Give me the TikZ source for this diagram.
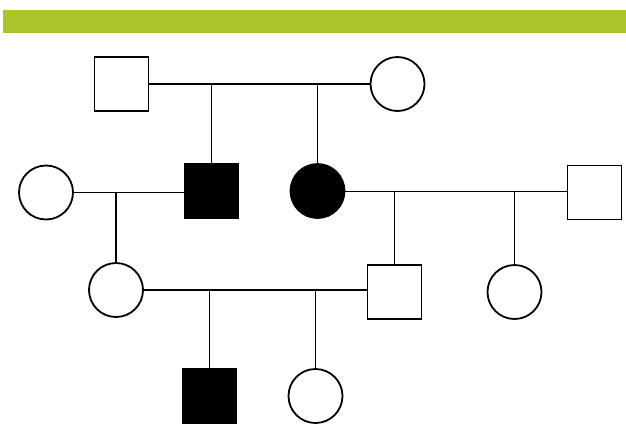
\documentclass[tikz,border=0pt]{standalone}
\usetikzlibrary{backgrounds}
\definecolor{barGreen}{RGB}{171,196,41}
\tikzset{
  person/.style={draw=black, line width=1.8pt, minimum size=54pt, inner sep=0pt, fill=white},
  male/.style={person, rectangle},
  female/.style={person, circle},
  affected/.style={fill=black},
  link/.style={draw=black, line width=1.8pt},
}
\begin{document}
\begin{tikzpicture}[x=1pt, y=-1pt]
  \useasboundingbox (0,0) rectangle (626,424);
  % header bar, running off the right edge of the page
  \fill[barGreen] (3,10) rectangle (660,33);

  % first generation
  \node[male]   (A) at (121.5,84) {};
  \node[female] (B) at (397.5,84) {};

  % second generation
  \node[female]          (E) at (46,192.5) {};
  \node[male, affected]  (C) at (211.5,191) {};
  \node[female, affected](D) at (317.5,191) {};
  \node[male]            (F) at (594.5,192.5) {};

  % third generation
  \node[female] (G) at (116,290) {};
  \node[male]   (H) at (394.5,292) {};
  \node[female] (I) at (514.5,292) {};

  % fourth generation, cut by the lower edge of the page
  \node[male, affected] (J) at (209.5,396) {};
  \node[female]         (K) at (315.5,396) {};

  % unions and descent lines
  \begin{scope}[on background layer]
    \draw[link] (A.east) -- (B.west);
    \draw[link] (C.north |- A.east) -- (C.north);
    \draw[link] (D.north |- A.east) -- (D.north);

    \draw[link] (E.east) -- (E.east -| C.west);
    \draw[link] (G.north |- E.east) -- (G.north);

    \draw[link] (D.east |- 0,191.5) -- (F.west |- 0,191.5);
    \draw[link] (H.north |- 0,191.5) -- (H.north);
    \draw[link] (I.north |- 0,191.5) -- (I.north);

    \draw[link] (G.east) -- (G.east -| H.west);
    \draw[link] (J.north |- G.east) -- (J.north);
    \draw[link] (K.north |- G.east) -- (K.north);
  \end{scope}
\end{tikzpicture}
\end{document}
